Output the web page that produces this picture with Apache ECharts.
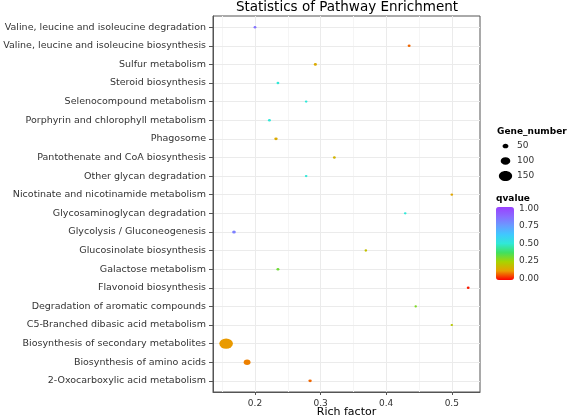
<!DOCTYPE html>
<html>
<head>
<meta charset="utf-8">
<script src="https://cdn.jsdelivr.net/npm/echarts@6/dist/echarts.min.js"></script>
<style>html,body{margin:0;padding:0;background:#fff}#c{width:567px;height:418px}</style>
</head>
<body>
<div id="c"></div>
<script>
const categories = [
  'Valine, leucine and isoleucine degradation',
  'Valine, leucine and isoleucine biosynthesis',
  'Sulfur metabolism',
  'Steroid biosynthesis',
  'Selenocompound metabolism',
  'Porphyrin and chlorophyll metabolism',
  'Phagosome',
  'Pantothenate and CoA biosynthesis',
  'Other glycan degradation',
  'Nicotinate and nicotinamide metabolism',
  'Glycosaminoglycan degradation',
  'Glycolysis / Gluconeogenesis',
  'Glucosinolate biosynthesis',
  'Galactose metabolism',
  'Flavonoid biosynthesis',
  'Degradation of aromatic compounds',
  'C5-Branched dibasic acid metabolism',
  'Biosynthesis of secondary metabolites',
  'Biosynthesis of amino acids',
  '2-Oxocarboxylic acid metabolism'
];
const richFactor = [0.200, 0.435, 0.292, 0.235, 0.278, 0.222, 0.232, 0.321, 0.278, 0.500,
                    0.429, 0.168, 0.369, 0.235, 0.525, 0.445, 0.500, 0.156, 0.188, 0.284];
const qvalue     = [0.85, 0.08, 0.15, 0.50, 0.50, 0.50, 0.15, 0.17, 0.50, 0.14,
                    0.50, 0.82, 0.20, 0.32, 0.02, 0.30, 0.22, 0.12, 0.10, 0.08];
const geneNumber = [8, 10, 12, 8, 6, 10, 16, 8, 6, 6,
                    6, 20, 6, 10, 8, 3, 4, 155, 62, 16];
const xTicks = [0.2, 0.3, 0.4, 0.5];
const xMinorTicks = [0.15, 0.25, 0.35, 0.45];
const sizeLegendValues = [50, 100, 150];
const qTicks = [0, 0.25, 0.5, 0.75, 1];
const qTickLabels = ['0.00', '0.25', '0.50', '0.75', '1.00'];

const FONT = 'DejaVu Sans';
function sizeW(n) { return 2.2 + 0.074 * n; }
function sizeH(n) { return 2.0 + 0.054 * n; }

const rows = categories.map((c, i) => i);
const data = categories.map((c, i) => [richFactor[i], i, qvalue[i], geneNumber[i]]);

const gridLines = [];
xMinorTicks.forEach(v => gridLines.push({xAxis: v, lineStyle: {color: '#F5F5F5', width: 1, type: 'solid'}}));
xTicks.forEach(v => gridLines.push({xAxis: v, lineStyle: {color: '#EBEBEB', width: 1, type: 'solid'}}));
rows.forEach(v => gridLines.push({yAxis: v, lineStyle: {color: '#EBEBEB', width: 1, type: 'solid'}}));

// legend geometry
const vmLeft = 496, vmTop = 207, vmW = 18, vmH = 73;
const graphics = [
  {type: 'text', x: 347, y: 7, style: {text: 'Statistics of Pathway Enrichment', font: '13.5px "' + FONT + '"', fill: '#000', align: 'center', verticalAlign: 'middle'}},
  {type: 'text', x: 497, y: 132, style: {text: 'Gene_number', font: 'bold 9px "' + FONT + '"', fill: '#000', align: 'left', verticalAlign: 'middle'}},
  {type: 'text', x: 496, y: 199, style: {text: 'qvalue', font: 'bold 9px "' + FONT + '"', fill: '#000', align: 'left', verticalAlign: 'middle'}}
];
sizeLegendValues.forEach((n, k) => {
  const cy = 146 + k * 15;
  graphics.push({type: 'ellipse', shape: {cx: 505.5, cy: cy, rx: sizeW(n) / 2, ry: sizeH(n) / 2}, style: {fill: '#000'}});
  graphics.push({type: 'text', x: 517, y: cy, style: {text: String(n), font: '9px "' + FONT + '"', fill: '#333', align: 'left', verticalAlign: 'middle'}});
});
qTicks.forEach((v, k) => {
  const y = vmTop + 1.5 + (1 - v) * (vmH - 3);
  graphics.push({type: 'text', x: 519, y: y, style: {text: qTickLabels[k], font: '9px "' + FONT + '"', fill: '#333', align: 'left', verticalAlign: 'middle'}});
  graphics.push({type: 'line', shape: {x1: vmLeft, y1: y, x2: vmLeft + 3, y2: y}, style: {stroke: '#fff', lineWidth: 1}});
  graphics.push({type: 'line', shape: {x1: vmLeft + vmW - 3, y1: y, x2: vmLeft + vmW, y2: y}, style: {stroke: '#fff', lineWidth: 1}});
});

const chart = echarts.init(document.getElementById('c'), null, {renderer: 'canvas'});
chart.setOption({
  animation: false,
  backgroundColor: '#fff',
  textStyle: {fontFamily: FONT},
  grid: {left: 213, right: 87, top: 16, bottom: 26, containLabel: false, outerBoundsMode: 'none',
         show: true, borderColor: '#555', borderWidth: 1, backgroundColor: 'transparent'},
  xAxis: {
    type: 'value', min: 0.136, max: 0.543, position: 'bottom',
    name: 'Rich factor', nameLocation: 'middle', nameGap: 15, nameMoveOverlap: false,
    nameTextStyle: {fontFamily: FONT, fontSize: 11, color: '#000'},
    splitLine: {show: false},
    axisLine: {show: true, onZero: false, lineStyle: {color: '#555'}},
    axisTick: {show: true, length: 3, customValues: xTicks, lineStyle: {color: '#555'}},
    axisLabel: {customValues: xTicks, margin: 7, fontFamily: FONT, fontSize: 9, color: '#333', formatter: v => String(Math.round(v * 10) / 10)}
  },
  yAxis: {
    type: 'value', inverse: true, min: -0.6, max: categories.length - 0.4,
    splitLine: {show: false},
    axisLine: {show: true, onZero: false, lineStyle: {color: '#555'}},
    axisTick: {show: true, length: 4, customValues: rows, lineStyle: {color: '#555'}},
    axisLabel: {customValues: rows, margin: 7, fontFamily: FONT, fontSize: 9.5, color: '#333', formatter: v => categories[Math.round(v)]}
  },
  visualMap: {
    type: 'continuous', seriesIndex: 1, dimension: 2, min: 0, max: 1,
    calculable: false, hoverLink: false, realtime: false,
    left: vmLeft, top: vmTop, itemWidth: vmW, itemHeight: vmH, padding: 0,
    text: null, showLabel: false,
    inRange: {color: ['#FF0000', '#E8A000', '#A8D400', '#40E060', '#30E8D8', '#40C8FF', '#6A9AFF', '#8A6AFF', '#9A40FF']}
  },
  graphic: graphics,
  series: [
    {type: 'scatter', data: [], silent: true,
     markLine: {silent: true, symbol: 'none', label: {show: false}, z: 0, animation: false, data: gridLines}},
    {type: 'scatter', data: data, z: 3,
     symbolSize: v => [sizeW(v[3]), sizeH(v[3])],
     itemStyle: {opacity: 1}}
  ]
});
</script>
</body>
</html>
